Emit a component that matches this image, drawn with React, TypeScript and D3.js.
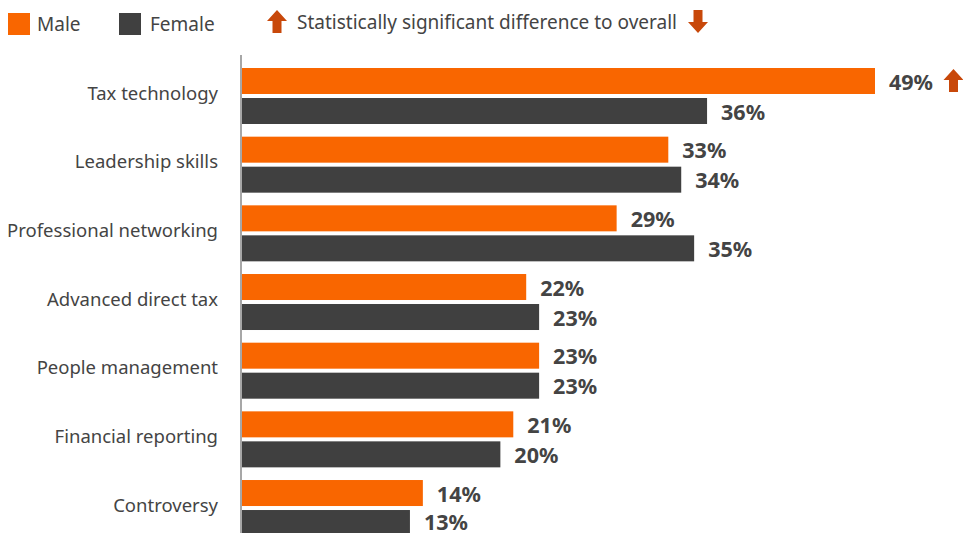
import React from "react";
import * as d3 from "d3";

const categories = [
  "Tax technology",
  "Leadership skills",
  "Professional networking",
  "Advanced direct tax",
  "People management",
  "Financial reporting",
  "Controversy",
];
const maleValues = [49, 33, 29, 22, 23, 21, 14];
const femaleValues = [36, 34, 35, 23, 23, 20, 13];
// significance markers: "up" / "down" / null
const maleSig = ["up", null, null, null, null, null, null];
const femaleSig = [null, null, null, null, null, null, null];
const seriesNames = ["Male", "Female"];

const W = 963;
const H = 533;
const ORANGE = "#F96600";
const DARK = "#404040";
const ARROW = "#C8480A";
const TEXT = "#444444";
const FONT = "'Noto Sans', 'Open Sans', sans-serif";

function arrowPath(cx: number, top: number, dir: "up" | "down") {
  const w = 20, h = 23, headH = 11, stemW = 9;
  if (dir === "up") {
    return `M${cx},${top} L${cx + w / 2},${top + headH} L${cx + stemW / 2},${top + headH} L${cx + stemW / 2},${top + h} L${cx - stemW / 2},${top + h} L${cx - stemW / 2},${top + headH} L${cx - w / 2},${top + headH} Z`;
  }
  const b = top + h;
  return `M${cx},${b} L${cx + w / 2},${b - headH} L${cx + stemW / 2},${b - headH} L${cx + stemW / 2},${top} L${cx - stemW / 2},${top} L${cx - stemW / 2},${b - headH} L${cx - w / 2},${b - headH} Z`;
}

export default function App() {
  const x = d3.scaleLinear().domain([0, 49]).range([242, 875]);
  const y = d3.scaleBand<string>().domain(categories).range([68, 68 + 7 * 68.67]).paddingInner(0);
  const inner = d3.scaleBand<string>().domain(seriesNames).range([0, 56]).paddingInner(4 / 30);
  const colors = [ORANGE, DARK];
  const data = [maleValues, femaleValues];
  const sigs = [maleSig, femaleSig];

  return (
    <svg width={W} height={H} style={{ position: "absolute", left: 0, top: 0, background: "#fff" }} fontFamily={FONT}>
      {/* Legend */}
      <rect x={8} y={13} width={22} height={22} fill={ORANGE} />
      <text x={37} y={24} dominantBaseline="central" fontSize={19} fill={TEXT}>Male</text>
      <rect x={119} y={13} width={22} height={22} fill={DARK} />
      <text x={150} y={24} dominantBaseline="central" fontSize={19} fill={TEXT}>Female</text>
      <path d={arrowPath(277, 10, "up")} fill={ARROW} />
      <text x={297} y={22} dominantBaseline="central" fontSize={19} textLength={380} lengthAdjust="spacingAndGlyphs" fill={TEXT}>Statistically significant difference to overall</text>
      <path d={arrowPath(698, 10, "down")} fill={ARROW} />

      {/* Category labels */}
      {categories.map((c) => (
        <text key={c} x={218} y={(y(c) as number) + 24} textAnchor="end" dominantBaseline="central" fontSize={18.5} fill={TEXT}>
          {c}
        </text>
      ))}

      {/* Bars */}
      {categories.map((c, i) =>
        data.map((vals, s) => {
          const by = (y(c) as number) + (inner(seriesNames[s]) as number);
          const bw = inner.bandwidth();
          const xe = x(vals[i]);
          const sig = sigs[s][i];
          const label = `${vals[i]}%`;
          const lx = xe + 14;
          const ly = Math.min(by + bw / 2, H - 12);
          return (
            <g key={c + s}>
              <rect x={x(0)} y={by} width={xe - x(0)} height={bw} fill={colors[s]} />
              <text x={lx} y={ly} dominantBaseline="central" fontSize={21.5} fontWeight="bold" fill={TEXT}>
                {label}
              </text>
              {sig && <path d={arrowPath(lx + label.length * 15.5 + 18, by + 1, sig as "up" | "down")} fill={ARROW} />}
            </g>
          );
        })
      )}

      {/* Axis line */}
      <line x1={241} x2={241} y1={55} y2={H} stroke="#8a8a8a" strokeWidth={1.5} />
    </svg>
  );
}
